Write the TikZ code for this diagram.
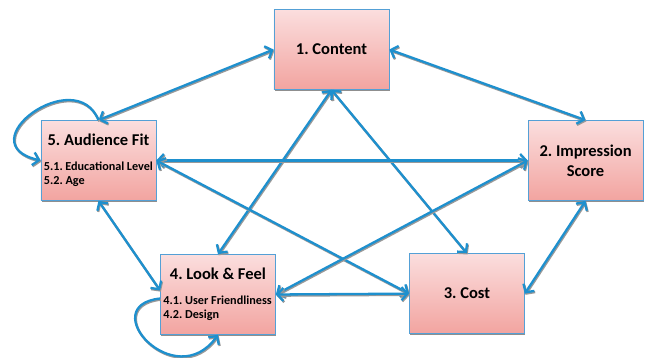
\documentclass[tikz,border=0pt]{standalone}
\usepackage{fontspec}
\setmainfont{Carlito}
\usepackage{tikz}
\usetikzlibrary{arrows.meta,shadows,positioning}
\definecolor{boxtop}{RGB}{251,222,222}
\definecolor{boxbottom}{RGB}{242,164,160}
\definecolor{boxline}{RGB}{84,160,214}
\definecolor{arrowblue}{RGB}{30,144,206}
\newcommand{\titlesize}{\fontsize{16.5}{20}\selectfont\bfseries}
\newcommand{\itemsize}{\fontsize{12.2}{14}\selectfont\bfseries}
\newcommand{\plainspaces}{\spaceskip=0pt\xspaceskip=0pt\relax}
\frenchspacing
\hyphenpenalty=10000

\begin{document}
\begin{tikzpicture}[>={Straight Barb[length=6pt,width=13pt]},
  box/.style={draw=boxline, line width=0.7pt, top color=boxtop, bottom color=boxbottom,
    minimum width=115pt, minimum height=80pt, inner sep=3pt, font=\titlesize,
    drop shadow={shadow xshift=0.6pt, shadow yshift=-1.8pt, fill=black!55, opacity=0.8}},
  rel/.style={draw=arrowblue, line width=2.3pt,
    preaction={draw=black!40, line width=2.3pt, transform canvas={xshift=0.8pt,yshift=-1.2pt}}}]
\useasboundingbox (0,0) rectangle (22.88,-12.58);

% Boxes
\node[box] (con) at (11.65,-1.74) {1. Content};
\node[box, align=center] (imp) at (20.58,-5.64) {2. Impression\\Score};
\node[box] (cost) at (16.41,-10.32) {3. Cost};
\node[box, text width=109pt, align=left] (look) at (7.66,-10.35)
  {\plainspaces{\centering 4. Look \& Feel\par}\vspace{11pt}{\itemsize 4.1. User Friendliness\\4.2. Design\par}};
\node[box, text width=109pt, align=left] (aud) at (3.46,-5.64)
  {\plainspaces{\centering 5. Audience Fit\par}\vspace{11pt}{\itemsize 5.1. Educational Level\\5.2. Age\par}};

% Links from Content
\draw[rel, <->] (con.west) -- (aud.north);
\draw[rel, <->] (con.east) -- (imp.north);
\draw[rel, <->] (con.south) -- (look.north);
\draw[rel, <->] (con.south) -- (cost.north);

% Cross links
\draw[rel, <->] (aud.east) -- (imp.west);
\draw[rel, <->] (aud.east) -- (cost.west);
\draw[rel, <->] (imp.west) -- (look.east);
\draw[rel, <->] (look.east) -- (cost.west);
\draw[rel, <->] (aud.south) -- ([yshift=4pt]look.west);
\draw[rel, <->] (imp.south) -- (cost.east);

% Self loops
\draw[rel, ->] (aud.north) .. controls +(-0.8,2.0) and +(-2.6,0.6) .. (aud.west);
\draw[rel, ->] ([yshift=-4pt]look.west) .. controls +(-2.32,-0.25) and +(-1.51,-2.11) .. (look.south);
\end{tikzpicture}
\end{document}
